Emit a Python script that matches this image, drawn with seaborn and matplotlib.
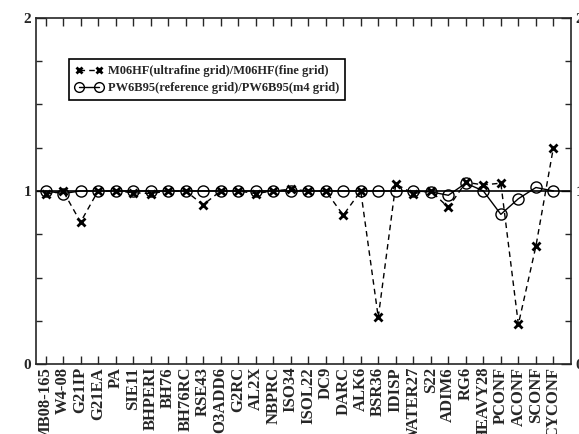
import numpy as np
import pandas as pd
import seaborn as sns
import matplotlib.pyplot as plt
from matplotlib.ticker import MultipleLocator

# Data
categories = ['MB08-165', 'W4-08', 'G21IP', 'G21EA', 'PA', 'SIE11', 'BHPERI', 'BH76',
              'BH76RC', 'RSE43', 'O3ADD6', 'G2RC', 'AL2X', 'NBPRC', 'ISO34', 'ISOL22',
              'DC9', 'DARC', 'ALK6', 'BSR36', 'IDISP', 'WATER27', 'S22', 'ADIM6', 'RG6',
              'HEAVY28', 'PCONF', 'ACONF', 'SCONF', 'CYCONF']
m06hf_ratio = [0.98, 1.00, 0.82, 1.00, 1.00, 0.99, 0.985, 1.00, 1.00, 0.92,
               1.00, 1.00, 0.985, 1.00, 1.01, 1.00, 1.00, 0.86, 1.00, 0.27,
               1.04, 0.985, 1.00, 0.905, 1.05, 1.035, 1.045, 0.23, 0.68, 1.25]
pw6b95_ratio = [1.00, 0.985, 1.00, 1.00, 1.00, 1.00, 1.00, 1.00, 1.00, 1.00,
                1.00, 1.00, 1.00, 1.00, 1.00, 1.00, 1.00, 1.00, 1.00, 1.00,
                1.00, 1.00, 0.995, 0.975, 1.045, 1.00, 0.865, 0.955, 1.02, 1.00]
labels = ['M06HF(ultrafine grid)/M06HF(fine grid)',
          'PW6B95(reference grid)/PW6B95(m4 grid)']

sns.set_style('ticks')
plt.rcParams['font.family'] = ['Liberation Serif', 'DejaVu Serif']
plt.rcParams['font.weight'] = 'bold'

df = pd.DataFrame({'pos': np.arange(1, len(categories) + 1),
                   'm06hf': m06hf_ratio, 'pw6b95': pw6b95_ratio})

fig = plt.figure(figsize=(5.79, 4.34), dpi=100)
ax = fig.add_axes([0.062, 0.161, 0.924, 0.798])

ax.axhline(1, color='black', lw=1.2, zorder=1)
sns.lineplot(data=df, x='pos', y='m06hf', ax=ax, color='black', lw=1,
             linestyle=(0, (4, 3)), marker='x', markersize=6, mew=2,
             mec='black', label=labels[0])
sns.lineplot(data=df, x='pos', y='pw6b95', ax=ax, color='black', lw=1,
             marker='o', markersize=8, mfc='none', mec='black', mew=1,
             label=labels[1])

ax.set_xlim(0.45, 31.0)
ax.set_ylim(0, 2)
ax.set_xticks(df['pos'])
ax.set_xticklabels(categories, rotation=90, fontsize=12, fontweight='bold')
ax.yaxis.set_major_locator(MultipleLocator(1))
ax.yaxis.set_minor_locator(MultipleLocator(0.25))
ax.tick_params(axis='x', direction='in', length=6, width=1, pad=2,
               top=True, bottom=True)
ax.tick_params(axis='y', which='both', direction='in', left=True, right=True,
               labelleft=True, labelright=True, labelsize=11, width=1)
ax.tick_params(axis='y', which='major', length=7)
ax.tick_params(axis='y', which='minor', length=4)
for lab in ax.get_yticklabels():
    lab.set_fontweight('bold')
ax.set_xlabel('')
ax.set_ylabel('')
for s in ax.spines.values():
    s.set_linewidth(1.2)

leg = ax.legend(loc='upper left', bbox_to_anchor=(0.05, 0.9), numpoints=2,
                handlelength=2.2, handletextpad=0.4, fancybox=False,
                edgecolor='black', framealpha=1, borderpad=0.5,
                labelspacing=0.4, prop={'weight': 'bold', 'size': 9})
leg.get_frame().set_linewidth(1.2)
for h in leg.legend_handles:
    if h.get_marker() == 'x':
        h.set_markersize(5)
    else:
        h.set_markersize(7)

fig.savefig('out.png', dpi=100)
